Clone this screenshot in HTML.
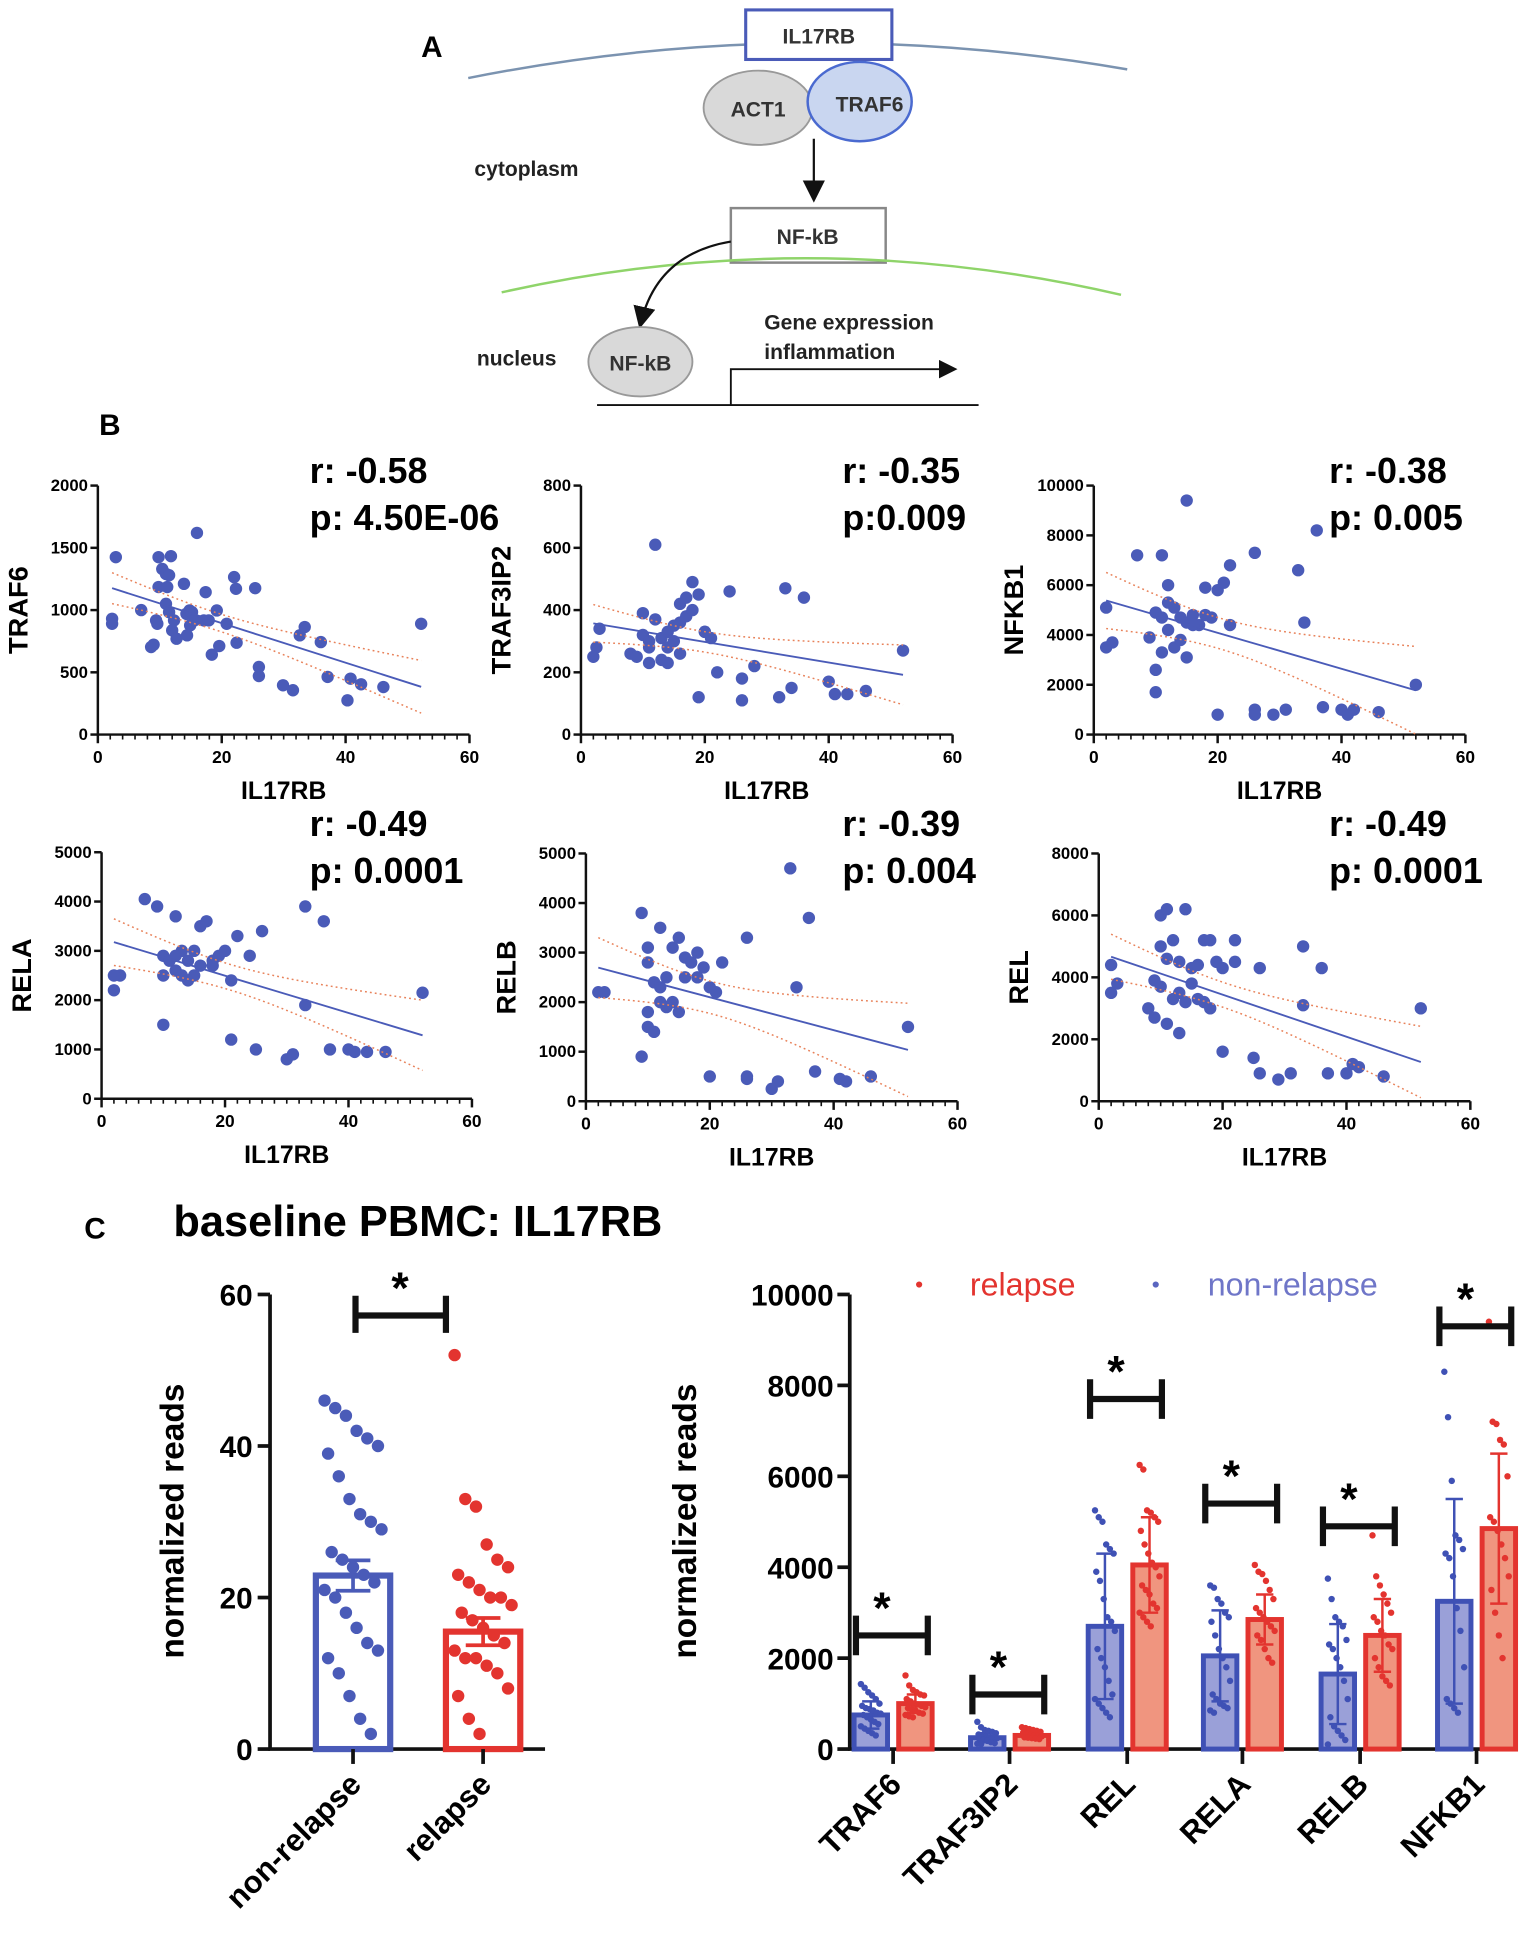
<!DOCTYPE html>
<html><head><meta charset="utf-8">
<style>
html,body{margin:0;padding:0;background:#fff;}
svg{display:block;font-family:"Liberation Sans",Arial,sans-serif;}
</style></head>
<body>
<svg id="fig" width="1536" height="1950" viewBox="0 0 1240 1574.2" xmlns="http://www.w3.org/2000/svg">
<g id="panelA">
  <defs>
    <marker id="ah" markerWidth="10" markerHeight="10" refX="8" refY="5" orient="auto"><path d="M0,0 L10,5 L0,10 z" fill="#111"/></marker>
  </defs>
  <text x="340" y="46" font-size="24" font-weight="bold">A</text>
  <path d="M378,63 Q644,10 910,56" fill="none" stroke="#7b93b0" stroke-width="2"/>
  <rect x="602" y="8" width="118" height="40" fill="#fff" stroke="#4a5bb8" stroke-width="2.5"/>
  <text x="661" y="35" font-size="17" font-weight="bold" text-anchor="middle" fill="#333">IL17RB</text>
  <ellipse cx="612" cy="87" rx="44" ry="30" fill="#d9d9d9" stroke="#999" stroke-width="1.5"/>
  <text x="612" y="94" font-size="17" font-weight="bold" text-anchor="middle" fill="#333">ACT1</text>
  <ellipse cx="694" cy="82" rx="42" ry="32" fill="#c9d6f0" stroke="#4a6ad0" stroke-width="2"/>
  <text x="702" y="90" font-size="17" font-weight="bold" text-anchor="middle" fill="#333">TRAF6</text>
  <line x1="657" y1="112" x2="657" y2="160" stroke="#111" stroke-width="1.8" marker-end="url(#ah)"/>
  <text x="383" y="142" font-size="17" font-weight="bold" fill="#222">cytoplasm</text>
  <rect x="590" y="168" width="125" height="44" fill="#fff" stroke="#888" stroke-width="2"/>
  <text x="652" y="197" font-size="17" font-weight="bold" text-anchor="middle" fill="#333">NF-kB</text>
  <path d="M405,236 Q655,180 905,238" fill="none" stroke="#8fd46a" stroke-width="2"/>
  <path d="M590,195 Q530,205 517,262" fill="none" stroke="#111" stroke-width="1.8" marker-end="url(#ah)"/>
  <text x="385" y="295" font-size="17" font-weight="bold" fill="#222">nucleus</text>
  <ellipse cx="517" cy="292" rx="42" ry="28" fill="#d9d9d9" stroke="#999" stroke-width="1.5"/>
  <text x="517" y="299" font-size="17" font-weight="bold" text-anchor="middle" fill="#333">NF-kB</text>
  <text x="617" y="266" font-size="17" font-weight="bold" fill="#222">Gene expression</text>
  <text x="617" y="290" font-size="17" font-weight="bold" fill="#222">inflammation</text>
  <line x1="482" y1="327" x2="790" y2="327" stroke="#111" stroke-width="1.5"/>
  <path d="M590,327 L590,298 L770,298" fill="none" stroke="#111" stroke-width="1.5" marker-end="url(#ah)"/>
</g>
<text x="80" y="351" font-size="24" font-weight="bold">B</text>
<g id="panelB"></g>
<text x="68" y="1000" font-size="24" font-weight="bold">C</text>
<text x="140" y="998" font-size="35" font-weight="bold">baseline PBMC: IL17RB</text>
<g id="panelC1"></g>
<g id="panelC2"></g>
</svg>
<script>
// ---------- Panel B data ----------
const traf6X = [2.9,2.3,2.3,7,9.8,11.8,10.4,11,11.5,9.8,11.2,9.4,9.6,8.6,9,11,11.5,12.3,12,12.7,13.9,14.3,14.8,15.2,14.9,14.4,15.6,16,17.4,17.1,17.9,19.2,18.4,19.6,20.8,22,22.3,22.4,25.4,26,26,29.9,31.5,32.6,33.4,36,37.1,40.3,40.8,42.5,46.1,52.2];
const traf6Y = [1425,930,890,1000,1425,1433,1330,1290,1280,1185,1185,917,890,703,722,1050,984,917,837,770,1211,970,997,984,877,797,917,1620,1144,917,917,997,642,711,890,1265,1171,738,1176,543,470,396,356,797,864,743,463,275,449,404,382,890];
const traf3ip2X = [3,2.5,2,8,10,11,12,11,13,14,15,16,17,18,12,10,9,13,14,15,16,17,19,20,21,24,22,26,26,32,33,34,36,40,41,43,46,52,19,14,16,18,11,20,28];
const traf3ip2Y = [340,280,250,260,320,300,610,280,310,330,350,420,440,490,370,390,250,240,280,300,260,380,450,330,310,460,200,180,110,120,470,150,440,170,130,130,140,270,120,230,360,400,230,330,220];
const nfkb1X = [15,7,11,22,26,33,36,34,52,2,3,2,10,11,12,12,13,14,15,16,17,18,19,20,21,22,12,13,11,10,10,14,15,16,20,26,26,29,31,37,40,41,42,46,9,18];
const nfkb1Y = [9400,7200,7200,6800,7300,6600,8200,4500,2000,3500,3700,5100,4900,4700,4200,5300,5100,4700,4500,4800,4400,4800,4700,5800,6100,4400,6000,3500,3300,2600,1700,3800,3100,4400,800,1000,800,800,1000,1100,1000,800,1000,900,3900,5900];
const relaX = [3,2,2,7,9,12,10,11,10,12,13,14,15,16,17,18,15,14,16,18,19,20,21,22,26,21,10,25,30,31,33,33,36,37,40,41,43,46,52,12,24,13];
const relaY = [2500,2500,2200,4050,3900,3700,2900,2800,2500,2600,3000,2800,3000,3500,3600,2700,2500,2400,2700,2800,2900,3000,2400,3300,3400,1200,1500,1000,800,900,3900,1900,3600,1000,1000,950,950,950,2150,2900,2900,2500];
const relbX = [2,3,9,10,10,11,12,12,13,14,15,16,17,18,19,20,21,22,26,10,11,10,9,13,14,15,16,20,26,26,30,31,33,34,36,37,41,42,46,52,12,18];
const relbY = [2200,2200,3800,3100,2800,2400,3500,2000,2500,3100,3300,2900,2800,2500,2700,2300,2200,2800,3300,1500,1400,1800,900,1900,2000,1800,2500,500,500,450,250,400,4700,2300,3700,600,450,400,500,1500,2300,3000];
const relX = [2,3,2,10,11,14,12,17,18,22,10,11,13,15,16,19,20,22,26,9,10,12,13,14,15,16,17,18,9,11,13,20,25,26,29,31,33,33,36,37,40,41,42,46,52,8];
const relY = [4400,3800,3500,6000,6200,6200,5200,5200,5200,5200,5000,4600,4500,4300,4400,4500,4300,4500,4300,3900,3700,3300,3500,3200,3800,3300,3200,3000,2700,2500,2200,1600,1400,900,700,900,5000,3100,4300,900,900,1200,1100,800,3000,3000];
const scatterNames = ["TRAF6","TRAF3IP2","NFKB1","RELA","RELB","REL"];
const scatterYMax = [2000,800,10000,5000,5000,8000];
const scatterYStep = [500,200,2000,1000,1000,2000];
const scatterR = ["r: -0.58","r: -0.35","r: -0.38","r: -0.49","r: -0.39","r: -0.49"];
const scatterP = ["p: 4.50E-06","p:0.009","p: 0.005","p: 0.0001","p: 0.004","p: 0.0001"];
const scatterXs = [traf6X,traf3ip2X,nfkb1X,relaX,relbX,relX];
const scatterYs = [traf6Y,traf3ip2Y,nfkb1Y,relaY,relbY,relY];

// ---------- Panel C data ----------
const nonRelapseVals = [46,45,44,42,41,40,39,36,33,31,30,29,26,25,24,23,22,21,20,18,16,14,13,12,10,7,4,2];
const relapseVals = [52,33,32,27,25,24,23,22,21,20,20,19,18,17,16,15,14,13,12,12,11,10,8,7,4,2];
const groupMeans = [22.9,15.5];
const groupSem = [2.0,1.8];

const genes = ["TRAF6","TRAF3IP2","REL","RELA","RELB","NFKB1"];
const blueMeans = [750,250,2700,2050,1650,3250];
const redMeans = [1000,300,4050,2850,2500,4850];
const blueSd = [300,100,1600,1000,1100,2250];
const redSd = [200,80,1050,550,800,1650];
const bracketLevel = [2500,1200,7700,5400,4900,9300];
const traf6Blue = [1430,1350,1250,1180,1100,1000,950,900,880,850,800,780,750,700,650,600,550,500,450,400,350,300];
const traf6Red = [1620,1400,1300,1250,1200,1180,1100,1050,1000,980,950,920,900,880,850,800,780,750,720,700];
const traf3ip2Blue = [600,480,420,400,380,350,320,300,280,260,250,240,220,200,180,150,130,120,110];
const traf3ip2Red = [480,460,440,420,400,380,360,340,320,300,290,280,260,250,240,230,220];
const relBlue = [5250,5100,5000,4500,4400,4300,3900,3700,3300,2900,2800,2600,2200,2000,1800,1500,1200,1100,1000,900,800,700];
const relRed = [6250,6150,5250,5200,5100,5000,4800,4500,4300,4100,4000,3800,3600,3500,3400,3200,3100,3000,2900,2800,2700];
const relaBlue = [3600,3550,3300,3200,3000,2900,2800,2500,2200,2000,1800,1500,1200,1100,1000,950,900,850,800];
const relaRed = [4050,3900,3850,3700,3500,3300,3100,3000,2900,2800,2700,2600,2500,2400,2200,2000,1900];
const relbBlue = [3750,3300,2900,2800,2700,2400,2300,2200,2000,1800,1500,1100,700,500,400,300,200,100];
const relbRed = [4700,3800,3600,3400,3200,3000,2900,2800,2600,2500,2300,2200,2000,1800,1600,1500,1400];
const nfkb1Blue = [8300,7300,5900,4700,4600,4400,4300,4200,3800,3100,2600,1800,1100,1000,900,800];
const nfkb1Red = [9400,7200,7150,6800,6700,6000,5100,5000,4800,4500,4200,3800,3500,3000,2500,2000];
const bluePoints = [traf6Blue,traf3ip2Blue,relBlue,relaBlue,relbBlue,nfkb1Blue];
const redPoints = [traf6Red,traf3ip2Red,relRed,relaRed,relbRed,nfkb1Red];

const NS="http://www.w3.org/2000/svg";
function mk(parent,tag,attrs,text){const e=document.createElementNS(NS,tag);for(const k in attrs)e.setAttribute(k,attrs[k]);if(text!==undefined)e.textContent=text;parent.appendChild(e);return e;}

const BLUE="#4a5bb8", RED="#e3342f";
const layout=[[79,379,593,392,250,390],[469,769,593,392,680,390],[883,1183,593,392,1073,390],[82,381,887,688,250,675],[473,773,889,689,680,675],[887,1187,889,689,1073,675]];
const pB=document.getElementById('panelB');
for(let i=0;i<6;i++){
  const [x0,x1,y0,y1,sx,sy]=layout[i];
  const g=mk(pB,'g',{});
  
  
  const X=v=>x0+(x1-x0)*v/60;
  const Y=v=>y0-(y0-y1)*v/scatterYMax[i];
  const ax=mk(g,'path',{d:`M${x0},${y1} L${x0},${y0} L${x1},${y0}`,fill:'none',stroke:'#111','stroke-width':2});
  
  
  for(let v=0;v<=scatterYMax[i];v+=scatterYStep[i]){
    mk(g,'line',{x1:x0-6,y1:Y(v),x2:x0,y2:Y(v),stroke:'#111','stroke-width':2});
    const t=mk(g,'text',{x:x0-8,y:Y(v)+4.5,'font-size':13.5,'font-weight':'bold','text-anchor':'end'},String(v));
    
    
  }
  for(let v=0;v<=60;v+=2){
    const big=v%20===0;
    mk(g,'line',{x1:X(v),y1:y0,x2:X(v),y2:y0+(big?7:4),stroke:'#111','stroke-width':big?2:1.3});
    if(big){const t=mk(g,'text',{x:X(v),y:y0+23,'font-size':14,'font-weight':'bold','text-anchor':'middle'},String(v));
      
      }
  }
  const yl=mk(g,'text',{transform:`translate(${x0-57},${(y0+y1)/2}) rotate(-90)`,'font-size':22,'font-weight':'bold','text-anchor':'middle'},scatterNames[i]);
  
  
  const xl=mk(g,'text',{x:(x0+x1)/2,y:y0+52,'font-size':20,'font-weight':'bold','text-anchor':'middle'},'IL17RB');
  
  
  const r=mk(g,'text',{x:sx,y:sy,'font-size':29,'font-weight':'bold'},scatterR[i]);
  
  
  const p=mk(g,'text',{x:sx,y:sy+38,'font-size':29,'font-weight':'bold'},scatterP[i]);
  
  
  const xs=scatterXs[i], ys=scatterYs[i], n=xs.length;
  for(let k=0;k<n;k++){
    const c=mk(g,'circle',{cx:X(xs[k]),cy:Y(ys[k]),r:5,fill:BLUE});
    
    
  }
  const mx=xs.reduce((a,b)=>a+b,0)/n, my=ys.reduce((a,b)=>a+b,0)/n;
  let sxx=0,sxy=0;for(let k=0;k<n;k++){sxx+=(xs[k]-mx)**2;sxy+=(xs[k]-mx)*(ys[k]-my);}
  const b=sxy/sxx,a=my-b*mx;
  let sse=0;for(let k=0;k<n;k++)sse+=(ys[k]-a-b*xs[k])**2;
  const s=Math.sqrt(sse/(n-2));
  const xmin=Math.min(...xs),xmax=Math.max(...xs);
  const fl=mk(g,'line',{x1:X(xmin),y1:Y(a+b*xmin),x2:X(xmax),y2:Y(a+b*xmax),stroke:BLUE,'stroke-width':1.5});
  
  
  for(const sg of [1,-1]){
    let pts=[];
    for(let j=0;j<=40;j++){const xv=xmin+(xmax-xmin)*j/40;const yv=a+b*xv+sg*2.01*s*Math.sqrt(1/n+(xv-mx)**2/sxx);pts.push(X(xv)+','+Y(Math.max(0,yv)));}
    const pl=mk(g,'polyline',{points:pts.join(' '),fill:'none',stroke:'#e8825a','stroke-width':1.2,'stroke-dasharray':'1.5,2.5'});
    
    
  }
}

function jit(k){return ((k*37)%17)/16-0.5;}

// ---------- Panel C1 ----------
(function(){
  const g=document.getElementById('panelC1');
  const ax0=218, axEnd=440, y0=1412, yT=1045;
  const Y=v=>y0-(y0-yT)*v/60;
  const centers=[285,390], cols=[BLUE,RED], names=["non-relapse","relapse"], vals=[nonRelapseVals,relapseVals];
  const ax=mk(g,'path',{d:`M${ax0},${yT} L${ax0},${y0} L${axEnd},${y0}`,fill:'none',stroke:'#111','stroke-width':3});
  
  
  for(let v=0;v<=60;v+=20){
    mk(g,'line',{x1:ax0-10,y1:Y(v),x2:ax0,y2:Y(v),stroke:'#111','stroke-width':3});
    const t=mk(g,'text',{x:ax0-14,y:Y(v)+9,'font-size':24,'font-weight':'bold','text-anchor':'end'},String(v));
    
    
  }
  const yl=mk(g,'text',{transform:`translate(148,1228) rotate(-90)`,'font-size':27,'font-weight':'bold','text-anchor':'middle'},'normalized reads');
  
  
  for(let i=0;i<2;i++){
    const c=centers[i];
    const bar=mk(g,'rect',{x:c-30,y:Y(groupMeans[i]),width:60,height:y0-Y(groupMeans[i]),fill:'#fff',stroke:cols[i],'stroke-width':5});
    
    
    mk(g,'line',{x1:c,y1:Y(groupMeans[i]+groupSem[i]),x2:c,y2:Y(groupMeans[i]-groupSem[i]),stroke:cols[i],'stroke-width':3});
    mk(g,'line',{x1:c-14,y1:Y(groupMeans[i]+groupSem[i]),x2:c+14,y2:Y(groupMeans[i]+groupSem[i]),stroke:cols[i],'stroke-width':3});
    mk(g,'line',{x1:c-14,y1:Y(groupMeans[i]-groupSem[i]),x2:c+14,y2:Y(groupMeans[i]-groupSem[i]),stroke:cols[i],'stroke-width':3});
    vals[i].forEach((v,k)=>{const d=mk(g,'circle',{cx:c+jit(k)*46,cy:Y(v),r:5,fill:cols[i]});
      
      });
    mk(g,'line',{x1:c,y1:y0,x2:c,y2:y0+12,stroke:'#111','stroke-width':3});
    const t=mk(g,'text',{transform:`translate(${c+8},${y0+30}) rotate(-45)`,'font-size':25,'font-weight':'bold','text-anchor':'end'},names[i]);
    
    
  }
  const br=mk(g,'path',{d:'M287,1046 L287,1076 M287,1062 L360,1062 M360,1046 L360,1076',stroke:'#111','stroke-width':5,fill:'none'});
  
  
  const st=mk(g,'text',{x:323,y:1052,'font-size':36,'font-weight':'bold','text-anchor':'middle'},'*');
  
  
})();

// ---------- Panel C2 ----------
(function(){
  const g=document.getElementById('panelC2');
  const ax0=686, axEnd=1222, y0=1412, yT=1045;
  const Y=v=>y0-(y0-yT)*v/10000;
  const ticks=[721,815,910,1003,1098,1192];
  const ax=mk(g,'path',{d:`M${ax0},${yT} L${ax0},${y0} L${axEnd},${y0}`,fill:'none',stroke:'#111','stroke-width':3});
  
  
  for(let v=0;v<=10000;v+=2000){
    mk(g,'line',{x1:ax0-10,y1:Y(v),x2:ax0,y2:Y(v),stroke:'#111','stroke-width':3});
    const t=mk(g,'text',{x:ax0-13,y:Y(v)+9,'font-size':24,'font-weight':'bold','text-anchor':'end'},String(v));
    
    
  }
  const yl=mk(g,'text',{transform:`translate(562,1228) rotate(-90)`,'font-size':27,'font-weight':'bold','text-anchor':'middle'},'normalized reads');
  
  
  const lg=mk(g,'g',{});
  
  
  mk(lg,'circle',{cx:742,cy:1037,r:2.5,fill:RED});
  mk(lg,'text',{x:783,y:1046,'font-size':26,fill:RED},'relapse');
  mk(lg,'circle',{cx:933,cy:1037,r:2.5,fill:'#5a66c0'});
  mk(lg,'text',{x:975,y:1046,'font-size':26,fill:'#6f76c8'},'non-relapse');
  for(let i=0;i<genes.length;i++){
    const t=ticks[i];
    const sets=[[t-18,blueMeans[i],blueSd[i],bluePoints[i],'#3f51b5','#9aa0d8','non-relapse'],[t+18,redMeans[i],redSd[i],redPoints[i],'#e3342f','#f0957f','relapse']];
    sets.forEach(([c,m,sd,pts,sc,fc,nm])=>{
      const bar=mk(g,'rect',{x:c-13.5,y:Y(m),width:27,height:y0-Y(m),fill:fc,stroke:sc,'stroke-width':4});
      
      
      mk(g,'line',{x1:c,y1:Y(m+sd),x2:c,y2:Y(Math.max(0,m-sd)),stroke:sc,'stroke-width':2});
      mk(g,'line',{x1:c-7,y1:Y(m+sd),x2:c+7,y2:Y(m+sd),stroke:sc,'stroke-width':2});
      mk(g,'line',{x1:c-7,y1:Y(Math.max(0,m-sd)),x2:c+7,y2:Y(Math.max(0,m-sd)),stroke:sc,'stroke-width':2});
      pts.forEach((v,k)=>{const d=mk(g,'circle',{cx:c+jit(k)*16,cy:Y(v),r:2.6,fill:sc});
        
        });
    });
    const lv=bracketLevel[i];
    const br=mk(g,'path',{d:`M${t-30},${Y(lv)-16} L${t-30},${Y(lv)+16} M${t-30},${Y(lv)} L${t+28},${Y(lv)} M${t+28},${Y(lv)-16} L${t+28},${Y(lv)+16}`,stroke:'#111','stroke-width':5,fill:'none'});
    
    
    const st=mk(g,'text',{x:t-9,y:Y(lv)-10,'font-size':36,'font-weight':'bold','text-anchor':'middle'},'*');
    
    
    mk(g,'line',{x1:t,y1:y0,x2:t,y2:y0+12,stroke:'#111','stroke-width':3});
    const tl=mk(g,'text',{transform:`translate(${t+8},${y0+30}) rotate(-45)`,'font-size':25,'font-weight':'bold','text-anchor':'end'},genes[i]);
    
    
  }
})();
</script>
</body></html>
